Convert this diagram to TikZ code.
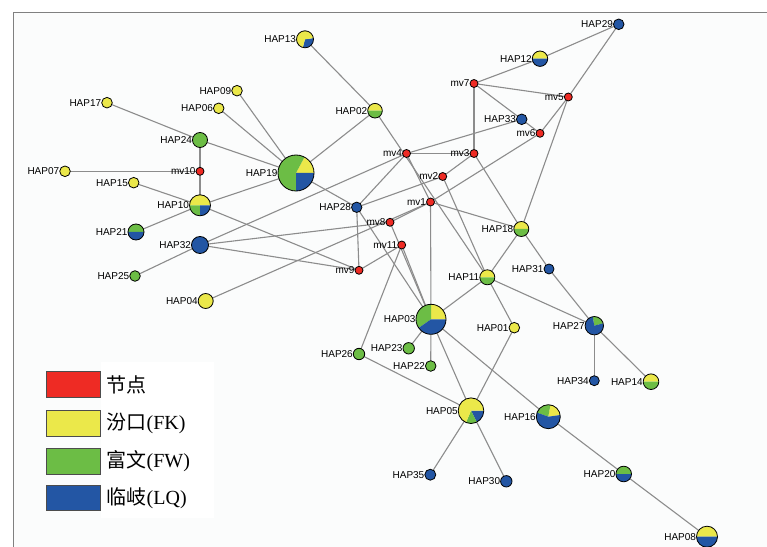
\documentclass[tikz,border=0pt]{standalone}
\usepackage{fontspec}
\newfontfamily\arialf{Liberation Sans}
\newfontfamily\tnr{Liberation Serif}
\newfontfamily\cjk{Noto Sans CJK SC}
\definecolor{cr}{HTML}{EE2B24}
\definecolor{cy}{HTML}{EBE84A}
\definecolor{cg}{HTML}{6CBD45}
\definecolor{cb}{HTML}{2356A4}
\definecolor{edgec}{HTML}{8C8C8C}
\definecolor{bgc}{HTML}{FBFCFC}
\pgfdeclarelayer{bgl}
\pgfdeclarelayer{edges}
\pgfdeclarelayer{pies}
\pgfsetlayers{bgl,edges,pies,main}
\newcommand\mypie[3]{\foreach \sa/\ea/\cc in {#3}{\fill[\cc] (#1.center) -- ++(\sa:#2) arc[start angle=\sa,end angle=\ea,radius=#2] -- cycle;}}
\begin{document}
\begin{tikzpicture}[x=1bp,y=-1bp,
  nd/.style={circle,draw=black,line width=0.8bp,inner sep=0pt,outer sep=0pt,minimum size=#1},
  lbl/.style={font=\arialf\fontsize{10bp}{12bp}\selectfont,inner sep=0.3bp,text=black},
  ed/.style={draw=edgec,line width=1.1bp},
  leg/.style={draw=black!70,line width=0.6bp},
  legt/.style={anchor=west,inner sep=0pt,font=\fontsize{20bp}{24bp}\selectfont}]
\useasboundingbox (0,0) rectangle (767,547);
\begin{pgfonlayer}{bgl}
\fill[bgc] (13,12) rectangle (767,547);
\fill[white] (101,362) rectangle (214,518);
\draw[gray,line width=0.8bp] (13,547) -- (13,12) -- (767,12);
\end{pgfonlayer}

% mv nodes
\tikzset{mv/.style={nd=8bp,fill=cr}}
\node[mv,label={[lbl]left:mv10}] (mv10) at (200,171.3) {};
\node[mv,label={[lbl]left:mv4}] (mv4) at (406.5,153.5) {};
\node[mv,label={[lbl]left:mv3}] (mv3) at (474,153.5) {};
\node[mv,label={[lbl]left:mv2}] (mv2) at (442.7,176.5) {};
\node[mv,label={[lbl]left:mv1}] (mv1) at (430.5,202) {};
\node[mv,label={[lbl]left:mv7}] (mv7) at (474,83.5) {};
\node[mv,label={[lbl]left:mv5}] (mv5) at (568.3,97) {};
\node[mv,label={[lbl]left:mv6}] (mv6) at (540,133.3) {};
\node[mv,label={[lbl]left:mv8}] (mv8) at (390,222.3) {};
\node[mv,label={[lbl]left:mv11}] (mv11) at (401.7,245) {};
\node[mv,label={[lbl]left:mv9}] (mv9) at (359,270.3) {};

% single colour haplotypes
\node[nd=10.6bp,fill=cy,label={[lbl]left:HAP09}] (HAP09) at (237,90.7) {};
\node[nd=10.6bp,fill=cy,label={[lbl]left:HAP06}] (HAP06) at (218.7,108.3) {};
\node[nd=10.6bp,fill=cy,label={[lbl]left:HAP17}] (HAP17) at (107,102.7) {};
\node[nd=15bp,fill=cg,label={[lbl]left:HAP24}] (HAP24) at (200,140) {};
\node[nd=10.6bp,fill=cy,label={[lbl]left:HAP07}] (HAP07) at (65,171.3) {};
\node[nd=10.6bp,fill=cy,label={[lbl]left:HAP15}] (HAP15) at (133.7,182.7) {};
\node[nd=17bp,fill=cb,label={[lbl]left:HAP32}] (HAP32) at (200,245) {};
\node[nd=10.6bp,fill=cg,label={[lbl]left:HAP25}] (HAP25) at (135,276) {};
\node[nd=15bp,fill=cy,label={[lbl]left:HAP04}] (HAP04) at (205.7,301) {};
\node[nd=10.6bp,fill=cb,label={[lbl]left:HAP29}] (HAP29) at (618.7,24.3) {};
\node[nd=10.6bp,fill=cb,label={[lbl]left:HAP33}] (HAP33) at (521.7,119.3) {};
\node[nd=10.4bp,fill=cb,label={[lbl]left:HAP28}] (HAP28) at (356.7,207.3) {};
\node[nd=10bp,fill=cb,label={[lbl]left:HAP31}] (HAP31) at (549,269) {};
\node[nd=10bp,fill=cb,label={[lbl]left:HAP34}] (HAP34) at (594.3,380.7) {};
\node[nd=10.6bp,fill=cy,label={[lbl]left:HAP01}] (HAP01) at (514.3,327.7) {};
\node[nd=11.4bp,fill=cg,label={[lbl]left:HAP23}] (HAP23) at (408.7,348.3) {};
\node[nd=10.6bp,fill=cg,label={[lbl]left:HAP22}] (HAP22) at (430.7,366) {};
\node[nd=11.4bp,fill=cg,label={[lbl]left:HAP26}] (HAP26) at (359,354) {};
\node[nd=11bp,fill=cb,label={[lbl]left:HAP35}] (HAP35) at (430.3,474.7) {};
\node[nd=11.4bp,fill=cb,label={[lbl]left:HAP30}] (HAP30) at (506.3,481.3) {};

% pie haplotypes
\node[nd=17bp,label={[lbl]left:HAP13}] (HAP13) at (305,39.3) {};
\node[nd=21bp,label={[lbl]left:HAP10}] (HAP10) at (200,205.3) {};
\node[nd=16bp,label={[lbl]left:HAP21}] (HAP21) at (136,232) {};
\node[nd=36bp,label={[lbl]left:HAP19}] (HAP19) at (296,173) {};
\node[nd=14.6bp,label={[lbl]left:HAP02}] (HAP02) at (375,110.7) {};
\node[nd=15.4bp,label={[lbl]left:HAP12}] (HAP12) at (540,58.7) {};
\node[nd=15bp,label={[lbl]left:HAP18}] (HAP18) at (521.3,229) {};
\node[nd=15bp,label={[lbl]left:HAP11}] (HAP11) at (487.3,277.3) {};
\node[nd=18.4bp,label={[lbl]left:HAP27}] (HAP27) at (594.3,325.7) {};
\node[nd=15.6bp,label={[lbl]left:HAP14}] (HAP14) at (651,381.7) {};
\node[nd=30bp,label={[lbl]left:HAP03}] (HAP03) at (431,319.3) {};
\node[nd=25.6bp,label={[lbl]left:HAP05}] (HAP05) at (471,410.7) {};
\node[nd=24bp,label={[lbl]left:HAP16}] (HAP16) at (548.3,416.7) {};
\node[nd=15.6bp,label={[lbl]left:HAP20}] (HAP20) at (623.7,474) {};
\node[nd=21bp,label={[lbl]left:HAP08}] (HAP08) at (707,536.7) {};

\begin{pgfonlayer}{pies}
\mypie{HAP13}{8.5bp}{-105/8/cb,8/255/cy}
\mypie{HAP10}{10.5bp}{0/180/cy,180/270/cg,270/360/cb}
\mypie{HAP21}{8bp}{0/180/cg,180/360/cb}
\mypie{HAP19}{18bp}{0/62/cy,62/270/cg,270/360/cb}
\mypie{HAP02}{7.3bp}{0/180/cy,180/360/cg}
\mypie{HAP12}{7.7bp}{0/180/cy,180/360/cb}
\mypie{HAP18}{7.5bp}{0/180/cy,180/360/cg}
\mypie{HAP11}{7.5bp}{0/180/cy,180/360/cg}
\mypie{HAP27}{9.2bp}{15/100/cg,100/375/cb}
\mypie{HAP14}{7.8bp}{0/180/cy,180/360/cg}
\mypie{HAP03}{15bp}{0/90/cy,90/215/cg,215/360/cb}
\mypie{HAP05}{12.8bp}{-63/0/cb,-113/-63/cg,0/247/cy}
\mypie{HAP16}{12bp}{8/80/cy,80/160/cg,160/368/cb}
\mypie{HAP20}{7.8bp}{0/180/cg,180/360/cb}
\mypie{HAP08}{10.5bp}{0/180/cy,180/360/cb}
\end{pgfonlayer}

\begin{pgfonlayer}{edges}
\foreach \a/\b in {HAP13/HAP02,HAP02/HAP19,HAP09/HAP19,HAP06/HAP19,HAP24/HAP19,
  HAP17/HAP24,HAP24/mv10,HAP07/mv10,mv10/HAP10,HAP15/HAP10,HAP10/HAP19,HAP10/HAP21,
  HAP10/mv9,HAP32/HAP25,HAP32/mv4,HAP32/mv8,HAP32/mv9,HAP04/mv1,HAP19/HAP28,
  HAP28/mv4,HAP28/mv2,HAP28/mv9,HAP28/HAP03,mv9/mv11,mv8/mv1,mv8/HAP03,mv11/HAP03,
  mv11/HAP26,mv4/mv3,mv4/HAP33,mv4/mv1,HAP02/HAP11,mv3/mv7,mv3/mv2,mv3/HAP18,
  mv2/HAP11,mv1/mv6,mv1/HAP18,mv1/HAP03,mv7/HAP12,mv7/mv5,mv7/HAP33,HAP33/mv6,
  mv6/mv5,mv5/HAP29,HAP12/HAP29,mv5/HAP18,HAP18/HAP11,HAP18/HAP31,HAP31/HAP27,
  HAP11/HAP03,HAP11/HAP01,HAP11/HAP27,HAP27/HAP34,HAP27/HAP14,HAP03/HAP23,
  HAP03/HAP22,HAP03/HAP05,HAP03/HAP16,HAP26/HAP05,HAP01/HAP05,HAP05/HAP35,
  HAP05/HAP30,HAP16/HAP20,HAP20/HAP08}
  {\draw[ed] (\a) -- (\b);}
\end{pgfonlayer}

% legend
\node[leg,fill=cr,minimum width=54bp,minimum height=25.5bp,inner sep=0pt] (lr) at (73,384.5) {};
\node[leg,fill=cy,minimum width=54bp,minimum height=25.5bp,inner sep=0pt] (ly) at (73,423.5) {};
\node[leg,fill=cg,minimum width=54bp,minimum height=25.5bp,inner sep=0pt] (lg) at (73,461.2) {};
\node[leg,fill=cb,minimum width=54bp,minimum height=25.5bp,inner sep=0pt] (lb) at (73,497.7) {};
\node[legt] (tr) at (106.5,384.5) {\cjk 节点};
\node[legt] (ty) at (106.5,423.5) {\cjk 汾口\tnr (FK)};
\node[legt] (tg) at (106.5,461.5) {\cjk 富文\tnr (FW)};
\node[legt] (tb) at (106.5,498.5) {\cjk 临岐\tnr (LQ)};
\end{tikzpicture}
\end{document}
